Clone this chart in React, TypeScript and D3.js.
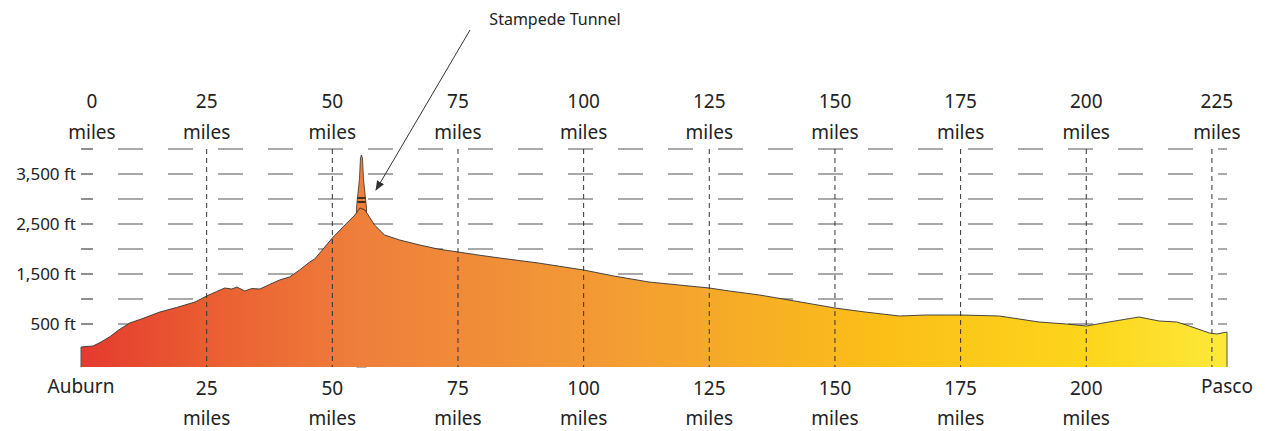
import * as d3 from 'd3'

type Pt = { mile: number; ft: number }

const profile: Pt[] = [
  { mile: 0, ft: 40 }, { mile: 2.4, ft: 60 }, { mile: 4, ft: 140 }, { mile: 5.8, ft: 250 }, { mile: 7.5, ft: 380 },
  { mile: 9.7, ft: 520 }, { mile: 12, ft: 600 }, { mile: 15.7, ft: 740 }, { mile: 19, ft: 830 }, { mile: 22.7, ft: 940 },
  { mile: 25, ft: 1060 }, { mile: 27, ft: 1150 }, { mile: 28.6, ft: 1220 }, { mile: 30, ft: 1200 }, { mile: 31, ft: 1240 },
  { mile: 32.6, ft: 1160 }, { mile: 34, ft: 1210 }, { mile: 35.6, ft: 1200 }, { mile: 37.5, ft: 1290 },
  { mile: 39.5, ft: 1380 }, { mile: 41.5, ft: 1440 }, { mile: 43.5, ft: 1580 }, { mile: 45.5, ft: 1740 },
  { mile: 46.5, ft: 1800 }, { mile: 47.5, ft: 1920 }, { mile: 50, ft: 2220 }, { mile: 52.5, ft: 2480 },
  { mile: 54.5, ft: 2680 }, { mile: 55.5, ft: 2820 }, { mile: 56.5, ft: 2780 }, { mile: 58.4, ft: 2480 },
  { mile: 60.4, ft: 2280 }, { mile: 63.4, ft: 2180 }, { mile: 67.4, ft: 2080 }, { mile: 71, ft: 2000 },
  { mile: 75, ft: 1940 }, { mile: 79, ft: 1880 }, { mile: 83.3, ft: 1820 }, { mile: 91, ft: 1720 }, { mile: 100, ft: 1580 },
  { mile: 106, ft: 1460 }, { mile: 113, ft: 1340 }, { mile: 119, ft: 1280 }, { mile: 125, ft: 1220 }, { mile: 129, ft: 1160 },
  { mile: 135, ft: 1080 }, { mile: 142, ft: 960 }, { mile: 150, ft: 820 }, { mile: 156, ft: 740 },
  { mile: 162.8, ft: 660 }, { mile: 168, ft: 680 }, { mile: 175, ft: 680 }, { mile: 182.7, ft: 660 }, { mile: 190.6, ft: 540 },
  { mile: 196, ft: 500 }, { mile: 200, ft: 460 }, { mile: 204.5, ft: 540 }, { mile: 210.5, ft: 640 }, { mile: 214.5, ft: 560 },
  { mile: 218, ft: 540 }, { mile: 220.5, ft: 460 }, { mile: 224.5, ft: 320 }, { mile: 226, ft: 300 }, { mile: 228, ft: 340 },
]

const spike: Pt[] = [
  { mile: 54.8, ft: 2820 }, { mile: 55.4, ft: 3400 }, { mile: 55.6, ft: 3820 }, { mile: 55.8, ft: 3880 },
  { mile: 56.0, ft: 3820 }, { mile: 56.2, ft: 3400 }, { mile: 56.8, ft: 2820 },
]

const mileTicks = [0, 25, 50, 75, 100, 125, 150, 175, 200, 225]
const bottomTicks = [25, 50, 75, 100, 125, 150, 175, 200]
const ftLabels = [500, 1500, 2500, 3500]
const gridFt = [500, 1000, 1500, 2000, 2500, 3000, 3500, 4000]

export default function App() {
  const W = 1269, H = 431
  const x = d3.scaleLinear().domain([0, 228]).range([81, 1227])
  const y = d3.scaleLinear().domain([-360, 4000]).range([367, 149])
  const area = d3.area<Pt>().x((d) => x(d.mile)).y0(y(-360)).y1((d) => y(d.ft))
  const line = d3.line<Pt>().x((d) => x(d.mile)).y((d) => y(d.ft))
  const font = '"Noto Sans", sans-serif'
  const lx = (m: number) => x(m) + (m === 0 ? 11 : m === 225 ? 5 : 0)
  return (
    <svg width={W} height={H} style={{ position: 'absolute', left: 0, top: 0 }}>
      <defs>
        <linearGradient id="g" x1={x(0)} x2={x(228)} y1={0} y2={0} gradientUnits="userSpaceOnUse">
          <stop offset="0" stopColor="#e53a2e" />
          <stop offset="0.12" stopColor="#ea6032" />
          <stop offset="0.25" stopColor="#ef803b" />
          <stop offset="0.45" stopColor="#f29a35" />
          <stop offset="0.7" stopColor="#fbbf18" />
          <stop offset="0.88" stopColor="#fdd51c" />
          <stop offset="1" stopColor="#fde93a" />
        </linearGradient>
        <marker id="arr" markerWidth="10" markerHeight="8" refX="9" refY="4" orient="auto">
          <path d="M0,0 L10,4 L0,8 Z" fill="#333" />
        </marker>
      </defs>
      {gridFt.map((f) => (
        <g key={f}>
          <line x1={81} x2={93} y1={y(f)} y2={y(f)} stroke="#444" strokeWidth={1.2} />
          <line x1={118} x2={1227} y1={y(f)} y2={y(f)} stroke="#555" strokeWidth={1.2} strokeDasharray="25 25" />
        </g>
      ))}
      <path d={area(spike) ?? undefined} fill="#ef803b" stroke="#333" strokeWidth={0.8} />
      <path d={area(profile) ?? undefined} fill="url(#g)" />
      <path d={line(profile) ?? undefined} fill="none" stroke="#333" strokeWidth={0.9} />
      <line x1={x(0)} x2={x(0)} y1={y(40)} y2={y(-360)} stroke="#555" />
      <line x1={x(228)} x2={x(228)} y1={y(340)} y2={y(-360)} stroke="#555" />
      <line x1={x(55.0)} x2={x(56.6)} y1={y(3020)} y2={y(3020)} stroke="#111" strokeWidth={1.5} />
      <line x1={x(55.0)} x2={x(56.6)} y1={y(2940)} y2={y(2940)} stroke="#111" strokeWidth={1.5} />
      {mileTicks.slice(1).map((m) => (
        <line key={m} x1={x(m)} x2={x(m)} y1={149} y2={367} stroke="#333" strokeWidth={1} strokeDasharray="5 4" />
      ))}
      {ftLabels.map((f) => (
        <text key={f} x={76} y={y(f) + 6} textAnchor="end" fontFamily={font} fontSize={17} fill="#222">
          {`${d3.format(',')(f)} ft`}
        </text>
      ))}
      {mileTicks.map((m) => (
        <text key={m} textAnchor="middle" fontFamily={font} fontSize={19} fill="#222">
          <tspan x={lx(m)} y={108}>{m}</tspan>
          <tspan x={lx(m)} y={139}>miles</tspan>
        </text>
      ))}
      <text x={81} y={393} textAnchor="middle" fontFamily={font} fontSize={19} fill="#222">Auburn</text>
      <text x={1227} y={393} textAnchor="middle" fontFamily={font} fontSize={19} fill="#222">Pasco</text>
      {bottomTicks.map((m) => (
        <text key={m} textAnchor="middle" fontFamily={font} fontSize={19} fill="#222">
          <tspan x={x(m)} y={395}>{m}</tspan>
          <tspan x={x(m)} y={425}>miles</tspan>
        </text>
      ))}
      <text x={555} y={25} textAnchor="middle" fontFamily={font} fontSize={16} fill="#222">Stampede Tunnel</text>
      <line x1={470} y1={30} x2={376} y2={190} stroke="#333" strokeWidth={1} markerEnd="url(#arr)" />
    </svg>
  )
}
